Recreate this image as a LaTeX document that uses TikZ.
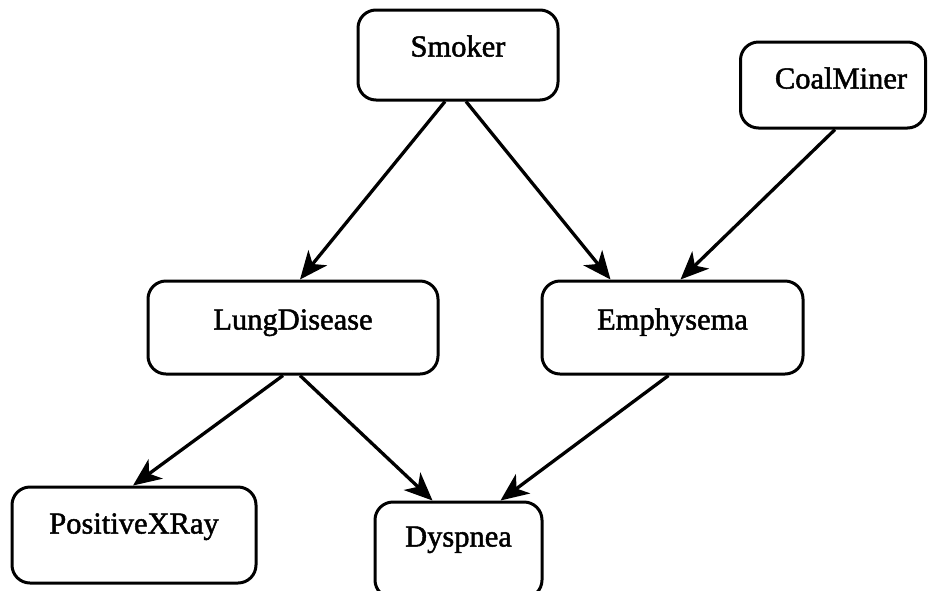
\documentclass[tikz,border=0pt]{standalone}
\usepackage{fontspec}
\setmainfont{Liberation Serif}
\newfontfamily\capfont{Liberation Serif}[RawFeature={embolden=1.6}]
\usetikzlibrary{arrows.meta}
\begin{document}
\begin{tikzpicture}[x=1pt,y=-1pt,
  var/.style={draw=black, line width=3pt, rounded corners=18pt, inner sep=0pt},
  caption/.style={anchor=base, inner sep=0pt, font=\capfont\fontsize{30.5}{36}\selectfont},
  link/.style={line width=3.3pt, -{Stealth[length=28pt,width=24pt,inset=8pt]}}
]
\useasboundingbox[fill=white] (0,0) rectangle (928,590);

% variables of the network
\node[var, minimum width=200pt, minimum height=90pt] (smoker) at (458,55) {};
\node[var, minimum width=185pt, minimum height=86pt] (coal)   at (833,85) {};
\node[var, minimum width=290pt, minimum height=93pt] (lung)   at (293,327.5) {};
\node[var, minimum width=261pt, minimum height=93pt] (emph)   at (672.5,327.5) {};
\node[var, minimum width=244pt, minimum height=96pt] (xray)   at (134,535) {};
\node[var, minimum width=167pt, minimum height=96pt] (dysp)   at (458.5,550) {};

% names, set in the upper part of each box
\node[caption] (smoker-t) at ([yshift=-48pt]smoker.north) {Smoker};
\node[caption] (coal-t)   at ([xshift=8pt,yshift=-48pt]coal.north) {CoalMiner};
\node[caption] (lung-t)   at ([yshift=-50pt]lung.north) {LungDisease};
\node[caption] (emph-t)   at ([yshift=-50pt]emph.north) {Emphysema};
\node[caption] (xray-t)   at ([yshift=-48pt]xray.north) {PositiveXRay};
\node[caption] (dysp-t)   at ([yshift=-46pt]dysp.north) {Dyspnea};

% dependencies
\draw[link] ([xshift=-13pt]smoker.south) -- ([xshift=7pt]lung.north);
\draw[link] ([xshift=8pt]smoker.south)   -- ([xshift=-62pt]emph.north);
\draw[link] ([xshift=2pt]coal.south)     -- ([xshift=8pt]emph.north);
\draw[link] ([xshift=-10pt]lung.south)   -- ([xshift=-1pt]xray.north);
\draw[link] ([xshift=7pt]lung.south)     -- ([xshift=-26pt]dysp.north);
\draw[link] ([xshift=-4pt]emph.south)    -- ([xshift=42pt]dysp.north);
\end{tikzpicture}
\end{document}
